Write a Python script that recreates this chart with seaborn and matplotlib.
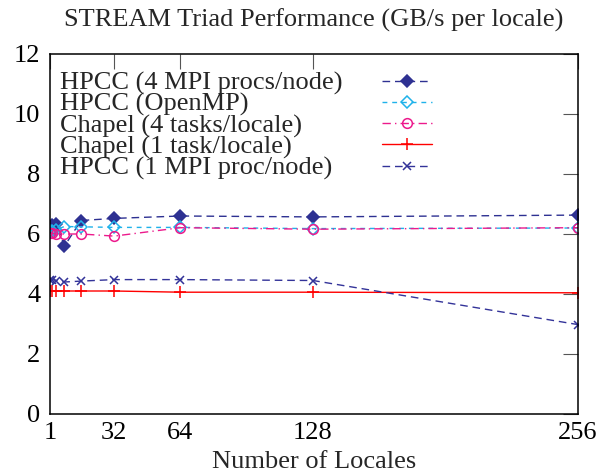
import matplotlib
matplotlib.use("Agg")
import matplotlib.pyplot as plt
import seaborn as sns
import pandas as pd

# ---- data ----
locales = [1, 2, 4, 8, 16, 32, 64, 128, 256]
hpcc_4mpi = [6.22, 6.30, 6.35, 5.60, 6.45, 6.52, 6.60, 6.57, 6.63]
hpcc_openmp = [6.10, 6.10, 6.15, 6.25, 6.24, 6.22, 6.22, 6.18, 6.20]
chapel_4tasks = [6.02, 6.02, 6.00, 6.00, 6.00, 5.93, 6.21, 6.16, 6.21]
chapel_1task = [4.10, 4.10, 4.10, 4.10, 4.10, 4.10, 4.06, 4.06, 4.04]
hpcc_1mpi = [4.48, 4.48, 4.45, 4.40, 4.43, 4.48, 4.48, 4.45, 2.98]

labels = ["HPCC (4 MPI procs/node)", "HPCC (OpenMP)", "Chapel (4 tasks/locale)",
          "Chapel (1 task/locale)", "HPCC (1 MPI proc/node)"]
series = [hpcc_4mpi, hpcc_openmp, chapel_4tasks, chapel_1task, hpcc_1mpi]
xticks = [1, 32, 64, 128, 256]
yticks = [0, 2, 4, 6, 8, 10, 12]

sns.set_theme(style="white")
plt.rcParams["font.family"] = ["Liberation Serif", "DejaVu Serif"]
FS = 19

styles = [
    dict(color="#2e3192", marker="D", markersize=6.2, mfc="#2e3192", mec="#2e3192",
         linestyle=(0, (5.5, 3.5))),
    dict(color="#1fb2ea", marker="D", markersize=6.2, mfc="none", mec="#1fb2ea",
         linestyle=(0, (3.5, 3.5))),
    dict(color="#ec1a8c", marker="o", markersize=7, mfc="none", mec="#ec1a8c",
         linestyle=(0, (6, 3, 1, 3))),
    dict(color="#ff0000", marker="+", markersize=9, mfc="#ff0000", mec="#ff0000",
         linestyle="-"),
    dict(color="#333399", marker="x", markersize=5.5, mfc="#333399", mec="#333399",
         linestyle=(0, (5.5, 3.5))),
]

fig = plt.figure(figsize=(6.12, 4.76), dpi=100)
ax = fig.add_axes([50 / 612, 1 - 414 / 476, 528 / 612, 360 / 476])

for lab, vals, st in zip(labels, series, styles):
    df = pd.DataFrame({"locales": locales, "gbs": vals})
    sns.lineplot(data=df, x="locales", y="gbs", ax=ax, label=lab,
                 color=st["color"], marker=st["marker"], markersize=st["markersize"],
                 markerfacecolor=st["mfc"], markeredgecolor=st["mec"],
                 markeredgewidth=1.1, linestyle=st["linestyle"], linewidth=1.0,
                 errorbar=None, legend=False)

ax.set_xlim(1, 256)
ax.set_ylim(0, 12)
ax.set_xticks(xticks)
ax.set_xticklabels([str(t) for t in xticks])
ax.set_yticks(yticks)
ax.set_yticklabels([str(t) for t in yticks])
ax.tick_params(axis="both", which="both", direction="in", length=11, width=0.8,
               color="#555555", top=True, right=True, labelsize=FS, labelcolor="black")
ax.tick_params(axis="y", pad=7)
ax.tick_params(axis="x", pad=6)
for sp in ax.spines.values():
    sp.set_color("black")
    sp.set_linewidth(1.1)

ax.set_xlabel("Number of Locales", fontsize=FS, labelpad=5)
ax.set_ylabel("")
ax.set_title("STREAM Triad Performance (GB/s per locale)", fontsize=FS, pad=20)

handles = ax.get_lines()[:5]
leg = ax.legend(handles, labels, loc="upper left", bbox_to_anchor=(0.019, 0.952),
                frameon=False, fontsize=FS, markerfirst=False, handlelength=1.9,
                handletextpad=0.5, labelspacing=-0.1, borderaxespad=0.0,
                borderpad=0.0, numpoints=1)

# align legend text to the left and samples to the right
fig.canvas.draw()
r = fig.canvas.get_renderer()
col = leg._legend_handle_box.get_children()[0]
col.align = "left"
items = col.get_children()
widths = [t.get_window_extent(r).width for t in leg.get_texts()]
handle_start = 382 - 60  # pixels from text left to sample start
for item, w in zip(items, widths):
    item.sep = (handle_start - w) * 72.0 / fig.dpi

fig.savefig("out.png", dpi=100)
